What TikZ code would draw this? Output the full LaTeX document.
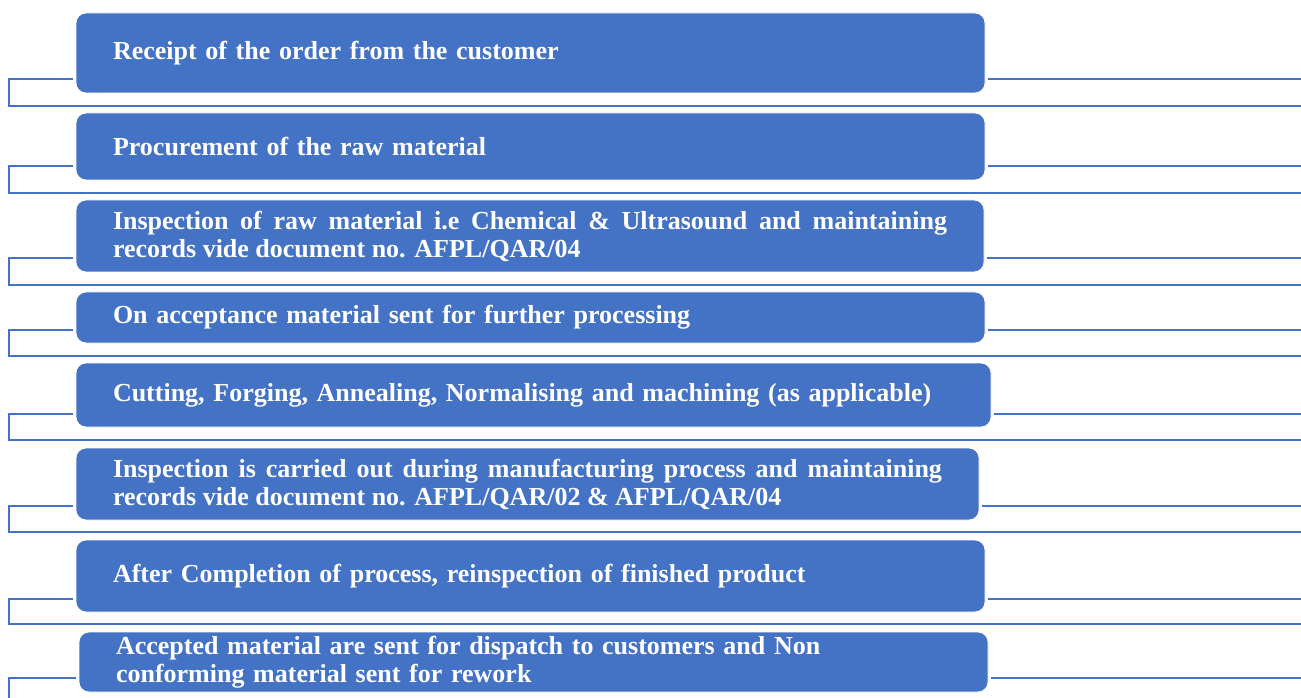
\documentclass[tikz,border=0pt]{standalone}
\usepackage{fontspec}
\setmainfont{Liberation Serif}
\usetikzlibrary{positioning}
\definecolor{stageblue}{HTML}{4472C4}
\tikzstyle{base}=[x=0.75pt, y=-0.75pt, inner sep=0pt, outer sep=0pt]
\tikzstyle{stage}=[draw=white, line width=0.6pt, fill=stageblue, rounded corners=7.5pt, text=white, inner xsep=27.75pt, outer sep=2pt, align=left, font=\bfseries\fontsize{19.5}{21}\selectfont]
\tikzstyle{frame}=[stageblue, line width=2pt]

\begin{document}
\begin{tikzpicture}[base]
    \useasboundingbox (0,0) rectangle (1301,698);
        \node [stage, text width=626.25pt, minimum height=60pt] (box1) at (530.5,53) {Receipt of the order from the customer};
        \node [stage, text width=626.25pt, minimum height=50.25pt] (box2) at (530.5,146.5) {Procurement of the raw material};
        \node [stage, text width=625.5pt, minimum height=54pt, align=justify] (box3) at (530,236) {Inspection of raw material i.e Chemical \& Ultrasound and maintaining\linebreak records vide document no. AFPL/QAR/04};
        \node [stage, text width=626.25pt, minimum height=38.25pt] (box4) at (530.5,317.5) {On acceptance material sent for further processing};
        \node [stage, text width=630.75pt, minimum height=48pt] (box5) at (533.5,395) {Cutting, Forging, Annealing, Normalising and machining (as applicable)};
        \node [stage, text width=621.75pt, minimum height=54pt, align=justify] (box6) at (527.5,484) {Inspection is carried out during manufacturing process and maintaining\linebreak records vide document no. AFPL/QAR/02 \& AFPL/QAR/04};
        \node [stage, text width=626.25pt, minimum height=54pt] (box7) at (530.5,576) {After Completion of process, reinspection of finished product};
        \node [stage, text width=626.25pt, minimum height=45pt] (box8) at (533.5,662) {Accepted material are sent for dispatch to customers and Non\\conforming material sent for rework};
        % brackets round each stage
        \foreach \b/\s/\e in {box1/79/106, box2/166/193, box3/258/285, box4/330/356, box5/414/440, box6/506/532, box7/599/624, box8/678/710} {
            \draw [frame] (\b.west |- 0,\s) -- (9,\s) -- (9,\e) -- (1301,\e);
            \draw [frame] (\b.east |- 0,\s) -- (1301,\s);
        }
    \end{tikzpicture}
\end{document}
